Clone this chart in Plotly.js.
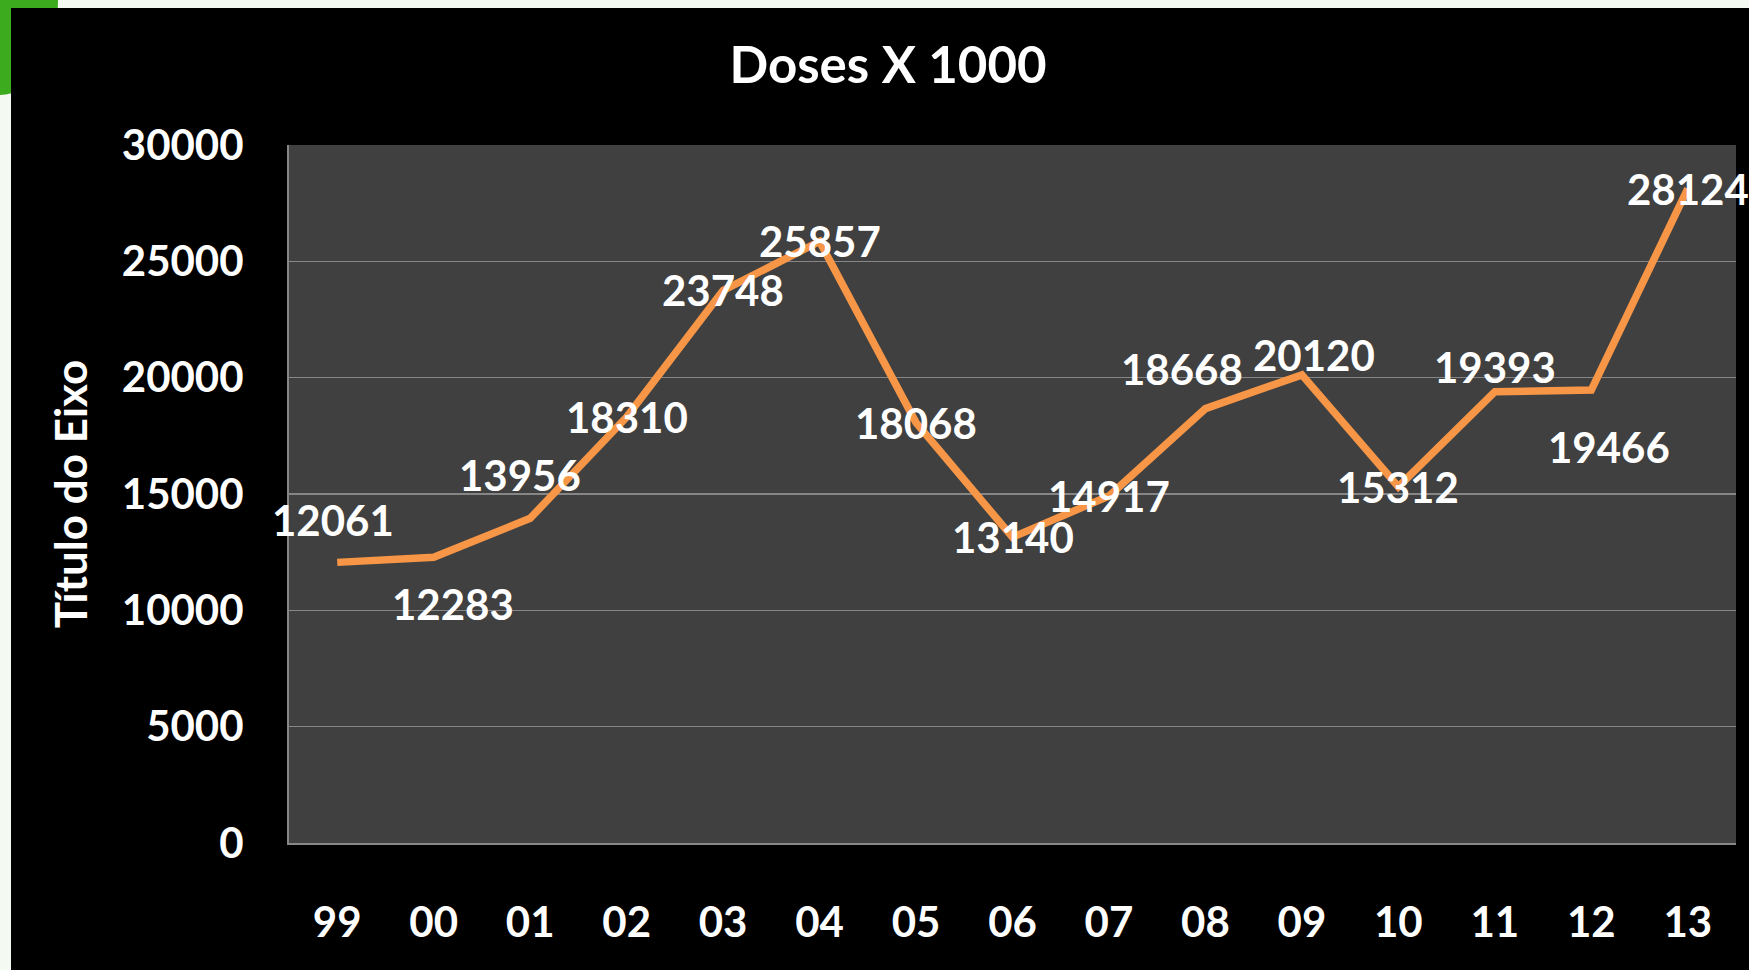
<!DOCTYPE html>
<html>
<head>
<meta charset="utf-8">
<script src="https://cdn.plot.ly/plotly-3.0.1.min.js"></script>
<style>
  html, body { margin: 0; padding: 0; width: 1749px; height: 970px; overflow: hidden; background: #f4f9f2; }
  #green { position: absolute; left: 0; top: 0; width: 58px; height: 95px; background: #3cab1e; border-bottom-right-radius: 100% 100%; z-index: 0; }
  #chart { position: absolute; left: 11px; top: 8px; width: 1738px; height: 962px; z-index: 1; }
</style>
</head>
<body>
<div id="green"></div>
<div id="chart"></div>
<script>
// Data
const years = ["99", "00", "01", "02", "03", "04", "05", "06", "07", "08", "09", "10", "11", "12", "13"];
const doses = [12061, 12283, 13956, 18310, 23748, 25857, 18068, 13140, 14917, 18668, 20120, 15312, 19393, 19466, 28124];
const yTicks = [0, 5000, 10000, 15000, 20000, 25000, 30000];

// Label placement offsets (pixels) - styling only
const labelDx = [-4, 19, -10, 0, 0, 0, 0, 0, 0, -23, 12, 0, 0, 18, 0];
const labelDy = [42, -47, 43, 0, 0, 0, 0, 0, 0, 40, 20, 0, 25, -57, 0];

const FONT = "Lato, 'Open Sans', sans-serif";

const trace = {
  type: 'scatter',
  mode: 'lines',
  x: years,
  y: doses,
  line: { color: '#F79646', width: 7.5, shape: 'linear' },
  hoverinfo: 'x+y',
  showlegend: false
};

// On a category axis, annotation x is given as the category index
const annotations = years.map((yr, i) => ({
  x: i,
  y: doses[i],
  xref: 'x',
  yref: 'y',
  text: String(doses[i]),
  showarrow: false,
  xshift: labelDx[i],
  yshift: labelDy[i],
  font: { family: FONT, size: 42, color: '#ffffff', weight: 700 }
}));

const layout = {
  width: 1738,
  height: 962,
  paper_bgcolor: '#000000',
  plot_bgcolor: '#404040',
  margin: { l: 278, r: 13, t: 137, b: 127, pad: 0 },
  title: {
    text: 'Doses X 1000',
    font: { family: FONT, size: 51, color: '#ffffff', weight: 700 },
    x: 0.5046,
    xref: 'container',
    xanchor: 'center',
    y: 1 - 57 / 962,
    yref: 'container',
    yanchor: 'middle'
  },
  xaxis: {
    type: 'category',
    categoryorder: 'array',
    categoryarray: years,
    range: [-0.5, years.length - 0.5],
    showgrid: false,
    zeroline: false,
    showline: true,
    linecolor: '#878787',
    linewidth: 2,
    ticks: '',
    ticklabelstandoff: 42,
    tickfont: { family: FONT, size: 42, color: '#ffffff', weight: 700 },
    fixedrange: true
  },
  yaxis: {
    range: [0, 30000],
    tickvals: yTicks,
    ticktext: yTicks.map(String),
    showgrid: true,
    gridcolor: '#868686',
    gridwidth: 1.5,
    zeroline: false,
    showline: true,
    linecolor: '#878787',
    linewidth: 2,
    ticks: '',
    ticklabelstandoff: 35,
    tickfont: { family: FONT, size: 42, color: '#ffffff', weight: 700 },
    title: {
      text: 'Título do Eixo',
      font: { family: FONT, size: 44, color: '#ffffff', weight: 700 },
      standoff: 20
    },
    fixedrange: true
  },
  annotations: annotations
};

Plotly.newPlot('chart', [trace], layout, { displayModeBar: false, staticPlot: true });
</script>
</body>
</html>
